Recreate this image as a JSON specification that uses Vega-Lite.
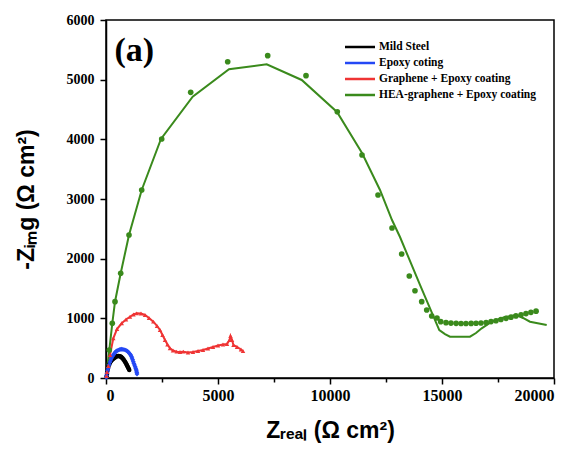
{
  "$schema": "https://vega.github.io/schema/vega-lite/v6.json",
  "width": 448,
  "height": 358,
  "autosize": "none",
  "padding": {"left": 106, "top": 20, "right": 23, "bottom": 71},
  "background": "white",
  "config": {
    "view": {"stroke": "black", "strokeWidth": 1.5},
    "axis": {
      "grid": false,
      "domainColor": "black",
      "domainWidth": 1.5,
      "tickColor": "black",
      "tickWidth": 1.5,
      "labelFont": "Liberation Serif",
      "labelFontWeight": "bold",
      "labelFontSize": 14,
      "labelColor": "black",
      "titleFont": "Liberation Sans",
      "titleFontWeight": "bold",
      "titleFontSize": 23,
      "titleColor": "black"
    }
  },
  "datasets": {
    "pts": [
      {"s": "Mild Steel", "t": "m", "x": 30, "y": 30},
      {"s": "Mild Steel", "t": "m", "x": 45, "y": 67},
      {"s": "Mild Steel", "t": "m", "x": 65, "y": 120},
      {"s": "Mild Steel", "t": "m", "x": 89, "y": 168},
      {"s": "Mild Steel", "t": "m", "x": 120, "y": 205},
      {"s": "Mild Steel", "t": "m", "x": 156, "y": 235},
      {"s": "Mild Steel", "t": "m", "x": 190, "y": 262},
      {"s": "Mild Steel", "t": "m", "x": 223, "y": 285},
      {"s": "Mild Steel", "t": "m", "x": 265, "y": 303},
      {"s": "Mild Steel", "t": "m", "x": 312, "y": 318},
      {"s": "Mild Steel", "t": "m", "x": 355, "y": 332},
      {"s": "Mild Steel", "t": "m", "x": 402, "y": 344},
      {"s": "Mild Steel", "t": "m", "x": 445, "y": 355},
      {"s": "Mild Steel", "t": "m", "x": 491, "y": 364},
      {"s": "Mild Steel", "t": "m", "x": 530, "y": 368},
      {"s": "Mild Steel", "t": "m", "x": 571, "y": 369},
      {"s": "Mild Steel", "t": "m", "x": 610, "y": 366},
      {"s": "Mild Steel", "t": "m", "x": 647, "y": 360},
      {"s": "Mild Steel", "t": "m", "x": 682, "y": 351},
      {"s": "Mild Steel", "t": "m", "x": 714, "y": 340},
      {"s": "Mild Steel", "t": "m", "x": 748, "y": 326},
      {"s": "Mild Steel", "t": "m", "x": 781, "y": 310},
      {"s": "Mild Steel", "t": "m", "x": 815, "y": 292},
      {"s": "Mild Steel", "t": "m", "x": 848, "y": 273},
      {"s": "Mild Steel", "t": "m", "x": 878, "y": 254},
      {"s": "Mild Steel", "t": "m", "x": 906, "y": 235},
      {"s": "Mild Steel", "t": "m", "x": 930, "y": 218},
      {"s": "Mild Steel", "t": "m", "x": 951, "y": 201},
      {"s": "Mild Steel", "t": "m", "x": 975, "y": 184},
      {"s": "Mild Steel", "t": "m", "x": 996, "y": 168},
      {"s": "Mild Steel", "t": "m", "x": 1020, "y": 150},
      {"s": "Mild Steel", "t": "m", "x": 1040, "y": 134},

      {"s": "Epoxy coting", "t": "m", "x": 15, "y": 10},
      {"s": "Epoxy coting", "t": "m", "x": 22, "y": 40},
      {"s": "Epoxy coting", "t": "m", "x": 45, "y": 84},
      {"s": "Epoxy coting", "t": "m", "x": 70, "y": 128},
      {"s": "Epoxy coting", "t": "m", "x": 103, "y": 168},
      {"s": "Epoxy coting", "t": "m", "x": 140, "y": 220},
      {"s": "Epoxy coting", "t": "m", "x": 179, "y": 268},
      {"s": "Epoxy coting", "t": "m", "x": 210, "y": 303},
      {"s": "Epoxy coting", "t": "m", "x": 246, "y": 335},
      {"s": "Epoxy coting", "t": "m", "x": 285, "y": 362},
      {"s": "Epoxy coting", "t": "m", "x": 326, "y": 385},
      {"s": "Epoxy coting", "t": "m", "x": 365, "y": 408},
      {"s": "Epoxy coting", "t": "m", "x": 402, "y": 427},
      {"s": "Epoxy coting", "t": "m", "x": 445, "y": 443},
      {"s": "Epoxy coting", "t": "m", "x": 491, "y": 456},
      {"s": "Epoxy coting", "t": "m", "x": 545, "y": 467},
      {"s": "Epoxy coting", "t": "m", "x": 603, "y": 476},
      {"s": "Epoxy coting", "t": "m", "x": 650, "y": 480},
      {"s": "Epoxy coting", "t": "m", "x": 701, "y": 481},
      {"s": "Epoxy coting", "t": "m", "x": 752, "y": 479},
      {"s": "Epoxy coting", "t": "m", "x": 804, "y": 476},
      {"s": "Epoxy coting", "t": "m", "x": 865, "y": 468},
      {"s": "Epoxy coting", "t": "m", "x": 924, "y": 458},
      {"s": "Epoxy coting", "t": "m", "x": 970, "y": 444},
      {"s": "Epoxy coting", "t": "m", "x": 1013, "y": 427},
      {"s": "Epoxy coting", "t": "m", "x": 1060, "y": 407},
      {"s": "Epoxy coting", "t": "m", "x": 1103, "y": 385},
      {"s": "Epoxy coting", "t": "m", "x": 1135, "y": 360},
      {"s": "Epoxy coting", "t": "m", "x": 1161, "y": 335},
      {"s": "Epoxy coting", "t": "m", "x": 1190, "y": 305},
      {"s": "Epoxy coting", "t": "m", "x": 1219, "y": 273},
      {"s": "Epoxy coting", "t": "m", "x": 1245, "y": 245},
      {"s": "Epoxy coting", "t": "m", "x": 1272, "y": 218},
      {"s": "Epoxy coting", "t": "m", "x": 1300, "y": 190},
      {"s": "Epoxy coting", "t": "m", "x": 1326, "y": 163},
      {"s": "Epoxy coting", "t": "m", "x": 1345, "y": 140},
      {"s": "Epoxy coting", "t": "m", "x": 1362, "y": 117},
      {"s": "Epoxy coting", "t": "m", "x": 1375, "y": 92},
      {"s": "Epoxy coting", "t": "m", "x": 1384, "y": 67},

      {"s": "Graphene + Epoxy coating", "t": "m", "x": 22, "y": 34},
      {"s": "Graphene + Epoxy coating", "t": "m", "x": 45, "y": 101},
      {"s": "Graphene + Epoxy coating", "t": "m", "x": 103, "y": 201},
      {"s": "Graphene + Epoxy coating", "t": "m", "x": 179, "y": 385},
      {"s": "Graphene + Epoxy coating", "t": "m", "x": 326, "y": 665},
      {"s": "Graphene + Epoxy coating", "t": "m", "x": 491, "y": 821},
      {"s": "Graphene + Epoxy coating", "t": "m", "x": 701, "y": 917},
      {"s": "Graphene + Epoxy coating", "t": "m", "x": 893, "y": 980},
      {"s": "Graphene + Epoxy coating", "t": "m", "x": 1071, "y": 1027},
      {"s": "Graphene + Epoxy coating", "t": "m", "x": 1228, "y": 1064},
      {"s": "Graphene + Epoxy coating", "t": "m", "x": 1370, "y": 1084},
      {"s": "Graphene + Epoxy coating", "t": "m", "x": 1562, "y": 1081},
      {"s": "Graphene + Epoxy coating", "t": "m", "x": 1741, "y": 1056},
      {"s": "Graphene + Epoxy coating", "t": "m", "x": 1920, "y": 1006},
      {"s": "Graphene + Epoxy coating", "t": "m", "x": 2112, "y": 944},
      {"s": "Graphene + Epoxy coating", "t": "m", "x": 2277, "y": 872},
      {"s": "Graphene + Epoxy coating", "t": "m", "x": 2411, "y": 804},
      {"s": "Graphene + Epoxy coating", "t": "m", "x": 2522, "y": 721},
      {"s": "Graphene + Epoxy coating", "t": "m", "x": 2634, "y": 637},
      {"s": "Graphene + Epoxy coating", "t": "m", "x": 2745, "y": 561},
      {"s": "Graphene + Epoxy coating", "t": "m", "x": 2857, "y": 498},
      {"s": "Graphene + Epoxy coating", "t": "m", "x": 2991, "y": 461},
      {"s": "Graphene + Epoxy coating", "t": "m", "x": 3156, "y": 441},
      {"s": "Graphene + Epoxy coating", "t": "m", "x": 3303, "y": 436},
      {"s": "Graphene + Epoxy coating", "t": "m", "x": 3451, "y": 441},
      {"s": "Graphene + Epoxy coating", "t": "m", "x": 3660, "y": 427},
      {"s": "Graphene + Epoxy coating", "t": "m", "x": 3884, "y": 436},
      {"s": "Graphene + Epoxy coating", "t": "m", "x": 4107, "y": 453},
      {"s": "Graphene + Epoxy coating", "t": "m", "x": 4330, "y": 469},
      {"s": "Graphene + Epoxy coating", "t": "m", "x": 4553, "y": 494},
      {"s": "Graphene + Epoxy coating", "t": "m", "x": 4777, "y": 520},
      {"s": "Graphene + Epoxy coating", "t": "m", "x": 5000, "y": 545},
      {"s": "Graphene + Epoxy coating", "t": "m", "x": 5223, "y": 561},
      {"s": "Graphene + Epoxy coating", "t": "m", "x": 5402, "y": 570},
      {"s": "Graphene + Epoxy coating", "t": "m", "x": 5513, "y": 637},
      {"s": "Graphene + Epoxy coating", "t": "m", "x": 5558, "y": 704},
      {"s": "Graphene + Epoxy coating", "t": "m", "x": 5625, "y": 637},
      {"s": "Graphene + Epoxy coating", "t": "m", "x": 5692, "y": 553},
      {"s": "Graphene + Epoxy coating", "t": "m", "x": 5848, "y": 520},
      {"s": "Graphene + Epoxy coating", "t": "m", "x": 6026, "y": 478},
      {"s": "Graphene + Epoxy coating", "t": "m", "x": 6116, "y": 453},

      {"s": "HEA-graphene + Epoxy coating", "t": "m", "x": 147, "y": 469},
      {"s": "HEA-graphene + Epoxy coating", "t": "m", "x": 281, "y": 917},
      {"s": "HEA-graphene + Epoxy coating", "t": "m", "x": 402, "y": 1279},
      {"s": "HEA-graphene + Epoxy coating", "t": "m", "x": 656, "y": 1755},
      {"s": "HEA-graphene + Epoxy coating", "t": "m", "x": 1027, "y": 2397},
      {"s": "HEA-graphene + Epoxy coating", "t": "m", "x": 1594, "y": 3151},
      {"s": "HEA-graphene + Epoxy coating", "t": "m", "x": 2487, "y": 4006},
      {"s": "HEA-graphene + Epoxy coating", "t": "m", "x": 3781, "y": 4788},
      {"s": "HEA-graphene + Epoxy coating", "t": "m", "x": 5433, "y": 5301},
      {"s": "HEA-graphene + Epoxy coating", "t": "m", "x": 7219, "y": 5402},
      {"s": "HEA-graphene + Epoxy coating", "t": "m", "x": 8929, "y": 5067},
      {"s": "HEA-graphene + Epoxy coating", "t": "m", "x": 10326, "y": 4463},
      {"s": "HEA-graphene + Epoxy coating", "t": "m", "x": 11429, "y": 3738},
      {"s": "HEA-graphene + Epoxy coating", "t": "m", "x": 12143, "y": 3067},
      {"s": "HEA-graphene + Epoxy coating", "t": "m", "x": 12768, "y": 2514},
      {"s": "HEA-graphene + Epoxy coating", "t": "m", "x": 13200, "y": 2078},
      {"s": "HEA-graphene + Epoxy coating", "t": "m", "x": 13540, "y": 1710},
      {"s": "HEA-graphene + Epoxy coating", "t": "m", "x": 13794, "y": 1463},
      {"s": "HEA-graphene + Epoxy coating", "t": "m", "x": 14094, "y": 1279},
      {"s": "HEA-graphene + Epoxy coating", "t": "m", "x": 14317, "y": 1140},
      {"s": "HEA-graphene + Epoxy coating", "t": "m", "x": 14540, "y": 1039},
      {"s": "HEA-graphene + Epoxy coating", "t": "m", "x": 14777, "y": 1006},
      {"s": "HEA-graphene + Epoxy coating", "t": "m", "x": 14942, "y": 944},
      {"s": "HEA-graphene + Epoxy coating", "t": "m", "x": 15179, "y": 927},
      {"s": "HEA-graphene + Epoxy coating", "t": "m", "x": 15400, "y": 920},
      {"s": "HEA-graphene + Epoxy coating", "t": "m", "x": 15630, "y": 916},
      {"s": "HEA-graphene + Epoxy coating", "t": "m", "x": 15850, "y": 914},
      {"s": "HEA-graphene + Epoxy coating", "t": "m", "x": 16070, "y": 914},
      {"s": "HEA-graphene + Epoxy coating", "t": "m", "x": 16300, "y": 915},
      {"s": "HEA-graphene + Epoxy coating", "t": "m", "x": 16520, "y": 917},
      {"s": "HEA-graphene + Epoxy coating", "t": "m", "x": 16740, "y": 922},
      {"s": "HEA-graphene + Epoxy coating", "t": "m", "x": 16970, "y": 930},
      {"s": "HEA-graphene + Epoxy coating", "t": "m", "x": 17190, "y": 945},
      {"s": "HEA-graphene + Epoxy coating", "t": "m", "x": 17410, "y": 960},
      {"s": "HEA-graphene + Epoxy coating", "t": "m", "x": 17630, "y": 980},
      {"s": "HEA-graphene + Epoxy coating", "t": "m", "x": 17860, "y": 1000},
      {"s": "HEA-graphene + Epoxy coating", "t": "m", "x": 18080, "y": 1020},
      {"s": "HEA-graphene + Epoxy coating", "t": "m", "x": 18300, "y": 1040},
      {"s": "HEA-graphene + Epoxy coating", "t": "m", "x": 18530, "y": 1060},
      {"s": "HEA-graphene + Epoxy coating", "t": "m", "x": 18750, "y": 1080},
      {"s": "HEA-graphene + Epoxy coating", "t": "m", "x": 18970, "y": 1100},
      {"s": "HEA-graphene + Epoxy coating", "t": "m", "x": 19200, "y": 1120},

      {"s": "HEA-graphene + Epoxy coating", "t": "fit", "x": 30, "y": 100},
      {"s": "HEA-graphene + Epoxy coating", "t": "fit", "x": 147, "y": 469},
      {"s": "HEA-graphene + Epoxy coating", "t": "fit", "x": 281, "y": 917},
      {"s": "HEA-graphene + Epoxy coating", "t": "fit", "x": 402, "y": 1279},
      {"s": "HEA-graphene + Epoxy coating", "t": "fit", "x": 656, "y": 1755},
      {"s": "HEA-graphene + Epoxy coating", "t": "fit", "x": 1027, "y": 2397},
      {"s": "HEA-graphene + Epoxy coating", "t": "fit", "x": 1594, "y": 3151},
      {"s": "HEA-graphene + Epoxy coating", "t": "fit", "x": 2455, "y": 4006},
      {"s": "HEA-graphene + Epoxy coating", "t": "fit", "x": 3870, "y": 4715},
      {"s": "HEA-graphene + Epoxy coating", "t": "fit", "x": 5491, "y": 5174},
      {"s": "HEA-graphene + Epoxy coating", "t": "fit", "x": 7174, "y": 5258},
      {"s": "HEA-graphene + Epoxy coating", "t": "fit", "x": 8737, "y": 4995},
      {"s": "HEA-graphene + Epoxy coating", "t": "fit", "x": 10313, "y": 4458},
      {"s": "HEA-graphene + Epoxy coating", "t": "fit", "x": 11429, "y": 3771},
      {"s": "HEA-graphene + Epoxy coating", "t": "fit", "x": 12232, "y": 3151},
      {"s": "HEA-graphene + Epoxy coating", "t": "fit", "x": 12768, "y": 2648},
      {"s": "HEA-graphene + Epoxy coating", "t": "fit", "x": 13125, "y": 2363},
      {"s": "HEA-graphene + Epoxy coating", "t": "fit", "x": 14018, "y": 1559},
      {"s": "HEA-graphene + Epoxy coating", "t": "fit", "x": 14879, "y": 804},
      {"s": "HEA-graphene + Epoxy coating", "t": "fit", "x": 15134, "y": 737},
      {"s": "HEA-graphene + Epoxy coating", "t": "fit", "x": 15357, "y": 692},
      {"s": "HEA-graphene + Epoxy coating", "t": "fit", "x": 16250, "y": 692},
      {"s": "HEA-graphene + Epoxy coating", "t": "fit", "x": 16518, "y": 754},
      {"s": "HEA-graphene + Epoxy coating", "t": "fit", "x": 16772, "y": 833},
      {"s": "HEA-graphene + Epoxy coating", "t": "fit", "x": 17218, "y": 944},
      {"s": "HEA-graphene + Epoxy coating", "t": "fit", "x": 17812, "y": 1022},
      {"s": "HEA-graphene + Epoxy coating", "t": "fit", "x": 18335, "y": 1056},
      {"s": "HEA-graphene + Epoxy coating", "t": "fit", "x": 18616, "y": 1006},
      {"s": "HEA-graphene + Epoxy coating", "t": "fit", "x": 18929, "y": 944},
      {"s": "HEA-graphene + Epoxy coating", "t": "fit", "x": 19674, "y": 888}
    ]
  },
  "layer": [
    {
      "data": {"name": "pts"},
      "layer": [
        {
          "transform": [{"filter": "datum.t == 'fit' || datum.s != 'HEA-graphene + Epoxy coating'"}],
          "mark": {"type": "line", "strokeWidth": 2},
          "encoding": {"detail": {"field": "t"}}
        },
        {
          "transform": [{"filter": "datum.t == 'm' && datum.s == 'Mild Steel'"}],
          "mark": {"type": "point", "filled": true, "opacity": 1, "shape": "circle", "size": 20}
        },
        {
          "transform": [{"filter": "datum.t == 'm' && datum.s == 'Epoxy coting'"}],
          "mark": {"type": "point", "filled": true, "opacity": 1, "shape": "diamond", "size": 24}
        },
        {
          "transform": [{"filter": "datum.t == 'm' && datum.s == 'Graphene + Epoxy coating'"}],
          "mark": {"type": "point", "filled": true, "opacity": 1, "shape": "triangle-up", "size": 20}
        },
        {
          "transform": [{"filter": "datum.t == 'm' && datum.s == 'HEA-graphene + Epoxy coating'"}],
          "mark": {"type": "point", "filled": true, "opacity": 1, "shape": "circle", "size": 32}
        }
      ],
      "encoding": {
        "x": {
          "field": "x",
          "type": "quantitative",
          "scale": {"domain": [0, 20000], "nice": false},
          "axis": {
            "title": "Zᵣₑₐₗ (Ω cm²)",
            "values": [0, 2500, 5000, 7500, 10000, 12500, 15000, 17500, 20000],
            "format": "d",
            "labelExpr": "datum.value % 5000 === 0 ? datum.label : ''",
            "labelFontSize": 16,
            "tickSize": {"condition": {"test": "datum.value % 5000 === 0", "value": 6}, "value": 4},
            "labelPadding": 3,
            "titlePadding": 16
          }
        },
        "y": {
          "field": "y",
          "type": "quantitative",
          "scale": {"domain": [0, 6000], "nice": false},
          "axis": {
            "title": "-Zᵢₘg (Ω cm²)",
            "values": [0, 500, 1000, 1500, 2000, 2500, 3000, 3500, 4000, 4500, 5000, 5500, 6000],
            "format": "d",
            "labelExpr": "datum.value % 1000 === 0 ? datum.label : ''",
            "tickSize": {"condition": {"test": "datum.value % 1000 === 0", "value": 6}, "value": 4},
            "labelPadding": 6,
            "titlePadding": 28
          }
        },
        "color": {
          "field": "s",
          "type": "nominal",
          "scale": {
            "domain": ["Mild Steel", "Epoxy coting", "Graphene + Epoxy coating", "HEA-graphene + Epoxy coating"],
            "range": ["#000000", "#2448f5", "#ef3434", "#3a8a1c"]
          },
          "legend": {
            "title": null,
            "orient": "none",
            "legendX": 245,
            "legendY": 18,
            "symbolType": "M-2,0H2",
            "symbolSize": 225,
            "symbolStrokeWidth": 2.5,
            "labelFont": "Liberation Serif",
            "labelFontWeight": "bold",
            "labelFontSize": 11.5,
            "labelColor": "black",
            "labelOffset": 10,
            "rowPadding": 1
          }
        }
      }
    },
    {
      "data": {"values": [{"label": "(a)", "px": 380, "py": 5320}]},
      "mark": {"type": "text", "font": "Liberation Serif", "fontWeight": "bold", "fontSize": 34, "align": "left", "baseline": "alphabetic", "color": "black"},
      "encoding": {
        "x": {"field": "px", "type": "quantitative"},
        "y": {"field": "py", "type": "quantitative"},
        "text": {"field": "label"}
      }
    }
  ]
}
